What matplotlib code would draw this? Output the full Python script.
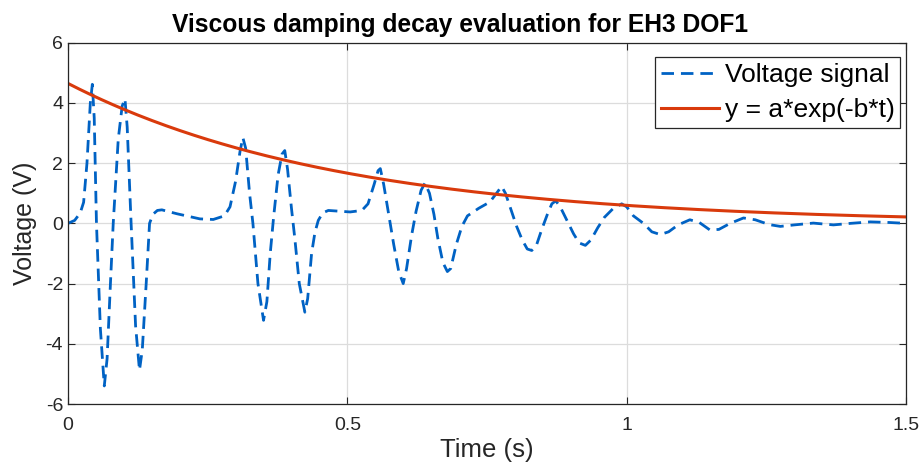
import matplotlib
matplotlib.use("Agg")
import matplotlib.pyplot as plt
import numpy as np

# Voltage signal (time in s, voltage in V)
time_s = [0.000, 0.012, 0.022, 0.028, 0.034, 0.040, 0.0436, 0.047, 0.051, 0.058,
          0.065, 0.070, 0.076, 0.081, 0.090, 0.097, 0.102, 0.106, 0.113, 0.121,
          0.128, 0.133, 0.140, 0.146, 0.152, 0.160, 0.168, 0.195, 0.236, 0.260,
          0.280, 0.290, 0.300, 0.308, 0.313, 0.318, 0.325, 0.331, 0.340, 0.350,
          0.356, 0.362, 0.368, 0.376, 0.383, 0.388, 0.393, 0.400, 0.406, 0.414,
          0.424, 0.429, 0.436, 0.442, 0.448, 0.456, 0.466, 0.499, 0.505, 0.526,
          0.537, 0.548, 0.555, 0.559, 0.565, 0.575, 0.583, 0.592, 0.600, 0.606,
          0.615, 0.623, 0.632, 0.639, 0.647, 0.655, 0.662, 0.671, 0.679, 0.685,
          0.695, 0.705, 0.715, 0.735, 0.755, 0.767, 0.776, 0.783, 0.792, 0.803,
          0.813, 0.822, 0.830, 0.838, 0.848, 0.858, 0.866, 0.873, 0.881, 0.893,
          0.905, 0.915, 0.926, 0.936, 0.948, 0.960, 0.975, 0.991, 1.000, 1.012,
          1.030, 1.045, 1.060, 1.075, 1.092, 1.113, 1.130, 1.149, 1.165, 1.185,
          1.209, 1.230, 1.255, 1.275, 1.300, 1.334, 1.370, 1.400, 1.436, 1.470,
          1.500]
voltage_v = [0.00, 0.10, 0.35, 0.70, 2.00, 4.00, 4.62, 3.50, 0.00, -3.50,
             -5.40, -4.50, -2.00, 0.00, 2.80, 3.90, 4.14, 3.20, 0.00, -3.40,
             -4.88, -4.20, -2.00, 0.00, 0.30, 0.43, 0.45, 0.32, 0.15, 0.13,
             0.25, 0.55, 1.40, 2.40, 2.85, 2.50, 1.00, 0.00, -2.00, -3.22,
             -2.60, -1.00, 0.20, 1.60, 2.30, 2.42, 1.80, 0.50, -0.50, -2.00,
             -2.95, -2.50, -1.00, -0.30, 0.10, 0.35, 0.43, 0.39, 0.38, 0.43,
             0.65, 1.30, 1.75, 1.82, 1.30, 0.20, -0.70, -1.60, -2.00, -1.50,
             -0.40, 0.40, 1.10, 1.34, 1.00, 0.30, -0.50, -1.30, -1.60, -1.50,
             -0.70, -0.10, 0.25, 0.50, 0.71, 1.00, 1.23, 1.00, 0.50, -0.10,
             -0.55, -0.85, -0.90, -0.75, -0.20, 0.30, 0.65, 0.75, 0.55, 0.10,
             -0.35, -0.65, -0.73, -0.55, -0.15, 0.20, 0.48, 0.65, 0.55, 0.25,
             0.00, -0.28, -0.37, -0.28, -0.05, 0.12, 0.03, -0.22, -0.20, 0.00,
             0.18, 0.12, -0.04, -0.10, -0.05, 0.01, -0.05, 0.00, 0.05, 0.03,
             0.00]

# Fitted decay envelope y = a*exp(-b*t)
fit_a = 4.65
fit_b = 2.05

x_ticks = [0, 0.5, 1, 1.5]
y_ticks = [-6, -4, -2, 0, 2, 4, 6]

plt.rcParams['font.family'] = ['Liberation Sans', 'DejaVu Sans']
plt.rcParams['axes.unicode_minus'] = False

fig = plt.figure(figsize=(9.21, 4.70), dpi=100)
ax = fig.add_axes([0.0738, 0.1404, 0.9100, 0.7686])

t_fit = np.linspace(0, 1.5, 300)
ax.plot(time_s, voltage_v, linestyle=(0, (4.5, 2.5)), color='#0062c4', linewidth=2.0,
        label='Voltage signal')
ax.plot(t_fit, fit_a * np.exp(-fit_b * t_fit), color='#d93a0c', linewidth=2.2,
        label='y = a*exp(-b*t)')

ax.set_xlim(0, 1.5)
ax.set_ylim(-6, 6)
ax.set_xticks(x_ticks)
ax.set_xticklabels(['0', '0.5', '1', '1.5'])
ax.set_yticks(y_ticks)
ax.tick_params(direction='in', length=5, labelsize=14, top=True, right=True,
               color='#262626', labelcolor='#262626')
ax.tick_params(axis='x', pad=9)
ax.grid(True, color='#dcdcdc', linewidth=0.9)
ax.set_axisbelow(True)
for sp in ax.spines.values():
    sp.set_color('#262626')
    sp.set_linewidth(0.9)

# title is centred on the figure, not on the axes
ax.set_title('Viscous damping decay evaluation for EH3 DOF1', fontsize=17.7,
             fontweight='bold', pad=8, x=0.468)
ax.set_xlabel('Time (s)', fontsize=18.5, labelpad=3, color='#262626')
ax.set_ylabel('Voltage (V)', fontsize=18, labelpad=6, color='#262626')

leg = ax.legend(loc='upper right', bbox_to_anchor=(0.993, 0.960), borderaxespad=0,
                fontsize=19, fancybox=False, framealpha=1, edgecolor='#262626',
                handlelength=2.2, handletextpad=0.2, borderpad=0.22,
                labelspacing=0.42)
leg.get_frame().set_linewidth(0.9)

fig.savefig('out.png', dpi=100)
